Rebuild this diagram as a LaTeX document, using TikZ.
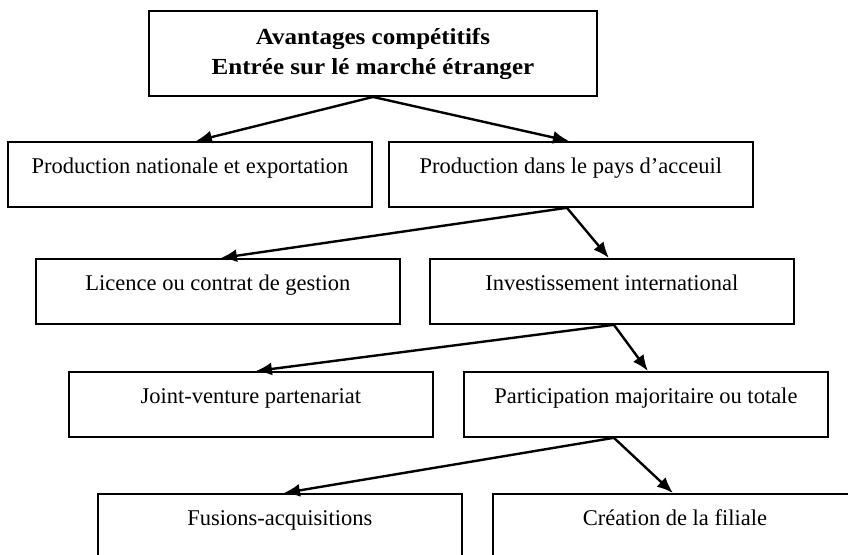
\documentclass[tikz,border=0pt]{standalone}
\usepackage{fontspec}
\setmainfont{Liberation Serif}
\newfontfamily\titlefont[FakeStretch=1.09]{Liberation Serif}
\usetikzlibrary{arrows.meta}
\begin{document}
\begin{tikzpicture}[x=1pt,y=-1pt,
  box/.style={draw, line width=1.8pt, inner sep=0pt, anchor=north west,
    minimum width=364pt, text height=32pt, text depth=33pt,
    font=\fontsize{22.5}{27}\selectfont},
  titlebox/.style={draw, line width=1.9pt, inner sep=0pt,
    minimum width=448pt, minimum height=85pt, align=center,
    font=\titlefont\bfseries\fontsize{23}{30}\selectfont},
  arr/.style={line width=2.4pt, -{Latex[length=16pt,width=13pt]}}]
\useasboundingbox (0,0) rectangle (848,554);
\clip (0,0) rectangle (848,554);
\node[titlebox] (top) at (373,53.5) {Avantages compétitifs\\Entrée sur lé marché étranger};
\node[box] (pne) at (7,141) {Production nationale et exportation};
\node[box] (ppa) at (388,141) {Production dans le pays d’acceuil};
\node[box] (lic) at (35,258) {Licence ou contrat de gestion};
\node[box] (inv) at (429,258) {Investissement international};
\node[box] (jv) at (68,371) {Joint-venture partenariat};
\node[box] (pmt) at (463,371) {Participation majoritaire ou totale};
\node[box] (fa) at (97,493) {Fusions-acquisitions};
\node[box] (cf) at (492,493) {Création de la filiale};
\draw[arr] (top.south) -- ([xshift=6pt]pne.north);
\draw[arr] (top.south) -- ([xshift=-2pt]ppa.north);
\draw[arr] ([xshift=-4pt]ppa.south) -- ([xshift=3pt]lic.north);
\draw[arr] ([xshift=-4pt]ppa.south) -- ([xshift=-3pt]inv.north);
\draw[arr] ([xshift=2pt]inv.south) -- ([xshift=5pt]jv.north);
\draw[arr] ([xshift=2pt]inv.south) -- ([xshift=2pt]pmt.north);
\draw[arr] ([xshift=-32pt]pmt.south) -- ([xshift=4pt]fa.north);
\draw[arr] ([xshift=-32pt]pmt.south) -- ([xshift=-2pt]cf.north);
\end{tikzpicture}
\end{document}
